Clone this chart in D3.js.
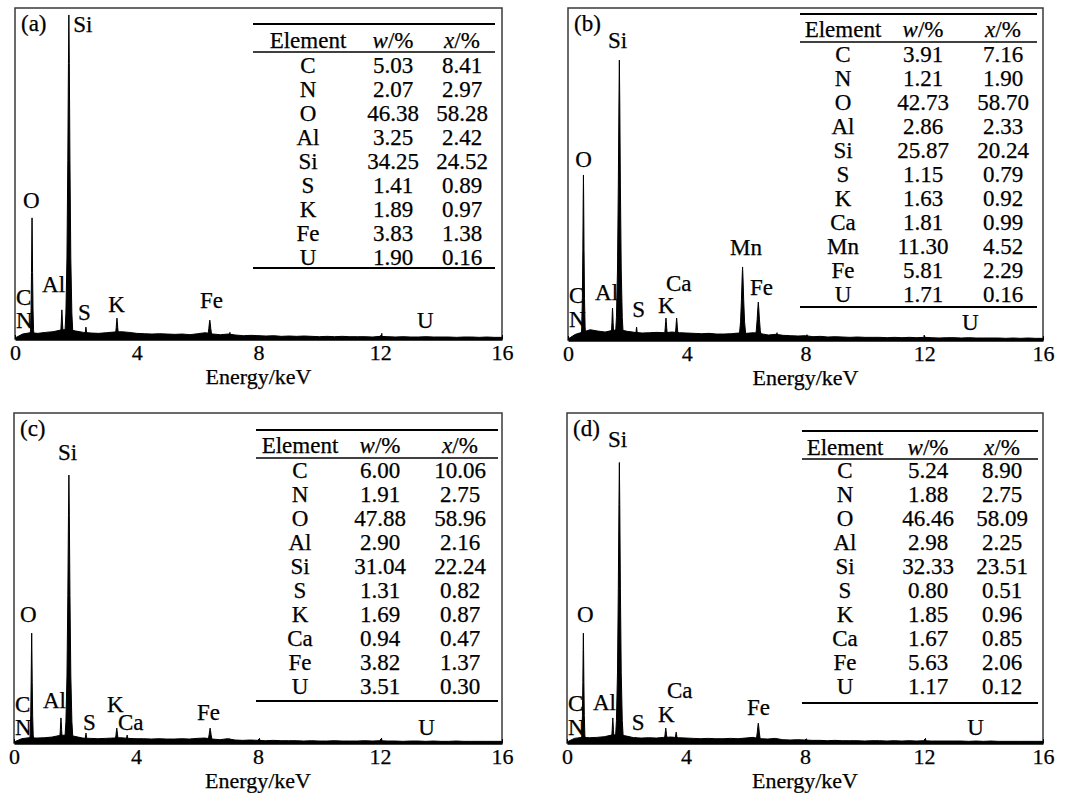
<!DOCTYPE html>
<html>
<head>
<meta charset="utf-8">
<script src="https://cdn.jsdelivr.net/npm/d3@7"></script>
<style>
  body { margin: 0; background: #fff; }
  svg text { font-family: "Liberation Serif", "Times New Roman", serif; font-size: 23px; fill: #000; stroke: #000; stroke-width: 0.25px; }
  svg text.axis-lbl { font-size: 22px; }
</style>
</head>
<body>
<svg id="chart" width="1075" height="793"></svg>
<script>
// ---- data ----
const panelNames = ["(a)", "(b)", "(c)", "(d)"];
const energyTicks = [0, 4, 8, 12, 16];

const elementsA = ["C", "N", "O", "Al", "Si", "S", "K", "Fe", "U"];
const wA = ["5.03", "2.07", "46.38", "3.25", "34.25", "1.41", "1.89", "3.83", "1.90"];
const xA = ["8.41", "2.97", "58.28", "2.42", "24.52", "0.89", "0.97", "1.38", "0.16"];

const elementsB = ["C", "N", "O", "Al", "Si", "S", "K", "Ca", "Mn", "Fe", "U"];
const wB = ["3.91", "1.21", "42.73", "2.86", "25.87", "1.15", "1.63", "1.81", "11.30", "5.81", "1.71"];
const xB = ["7.16", "1.90", "58.70", "2.33", "20.24", "0.79", "0.92", "0.99", "4.52", "2.29", "0.16"];

const elementsC = ["C", "N", "O", "Al", "Si", "S", "K", "Ca", "Fe", "U"];
const wC = ["6.00", "1.91", "47.88", "2.90", "31.04", "1.31", "1.69", "0.94", "3.82", "3.51"];
const xC = ["10.06", "2.75", "58.96", "2.16", "22.24", "0.82", "0.87", "0.47", "1.37", "0.30"];

const elementsD = ["C", "N", "O", "Al", "Si", "S", "K", "Ca", "Fe", "U"];
const wD = ["5.24", "1.88", "46.46", "2.98", "32.33", "0.80", "1.85", "1.67", "5.63", "1.17"];
const xD = ["8.90", "2.75", "58.09", "2.25", "23.51", "0.51", "0.96", "0.85", "2.06", "0.12"];

// peaks: [energy keV, intensity (% of full scale), half width keV]
const peaksA = [[0.56, 36.6, 0.07], [1.54, 8.8, 0.08], [1.77, 97.9, 0.14], [2.33, 3.6, 0.08],
  [3.35, 6.3, 0.1], [3.62, 2.0, 0.08], [6.40, 5.7, 0.13], [7.06, 2.0, 0.08], [12.05, 1.7, 0.04]];
const peaksB = [[0.52, 49.7, 0.08], [1.50, 9.6, 0.08], [1.73, 84.3, 0.14], [2.31, 3.9, 0.08],
  [3.30, 6.6, 0.1], [3.66, 6.6, 0.1], [5.88, 22.0, 0.15], [6.41, 11.4, 0.15], [7.04, 2.2, 0.08],
  [8.05, 1.6, 0.04], [12.0, 1.5, 0.04]];
const peaksC = [[0.58, 33.3, 0.07], [1.54, 7.6, 0.08], [1.80, 81.2, 0.14], [2.36, 3.0, 0.08],
  [3.37, 4.5, 0.1], [3.71, 2.4, 0.1], [6.43, 4.5, 0.13], [7.06, 1.3, 0.08], [8.05, 1.4, 0.04],
  [12.05, 1.5, 0.04]];
const peaksD = [[0.55, 33.3, 0.07], [1.54, 7.6, 0.08], [1.76, 85.0, 0.14], [2.31, 1.8, 0.08],
  [3.32, 4.5, 0.1], [3.67, 3.3, 0.1], [6.43, 6.0, 0.13], [7.05, 1.2, 0.08], [8.05, 1.3, 0.04],
  [12.05, 1.4, 0.04]];

// background counts every 0.25 keV, 0..16 keV
const bgA = [0.3, 1.5, 1.9, 1.7, 2.0, 2.2, 2.7, 2.9, 2.4, 2.0, 1.8, 1.7, 1.9, 2.1, 2.2, 2.0, 1.7,
  1.6, 1.5, 1.6, 1.5, 1.4, 1.5, 1.3, 1.6, 1.9, 1.5, 1.3, 1.5, 1.2, 1.0, 1.1, 1.0,
  0.9, 1.0, 0.8, 0.9, 0.8, 0.9, 0.8, 0.7, 0.8, 0.7, 0.8, 0.7, 0.7, 0.7, 0.6, 0.8,
  0.7, 0.6, 0.7, 0.6, 0.6, 0.7, 0.6, 0.6, 0.6, 0.5, 0.6, 0.6, 0.5, 0.6, 0.5, 0.5];
const bgB = [0.3, 1.7, 2.4, 3.1, 2.7, 2.4, 2.9, 3.1, 2.6, 2.3, 2.1, 2.2, 2.3, 2.2, 2.4, 2.2, 2.1,
  2.0, 1.9, 2.0, 1.8, 1.8, 1.9, 2.1, 2.0, 2.2, 1.9, 1.5, 1.7, 1.4, 1.3, 1.2, 1.3,
  1.0, 1.1, 0.9, 1.0, 0.9, 0.8, 0.9, 0.8, 0.8, 0.8, 0.7, 0.8, 0.7, 0.8, 0.7, 0.8,
  0.7, 0.6, 0.7, 0.7, 0.6, 0.7, 0.6, 0.6, 0.6, 0.6, 0.5, 0.6, 0.5, 0.6, 0.5, 0.5];
const bgC = [0.3, 1.3, 1.6, 1.5, 1.6, 1.8, 2.3, 2.4, 2.0, 1.5, 1.4, 1.3, 1.4, 1.5, 1.6, 1.4, 1.3,
  1.3, 1.2, 1.3, 1.2, 1.2, 1.3, 1.2, 1.4, 1.5, 1.2, 1.0, 1.3, 0.9, 0.8, 0.9, 0.8,
  0.7, 0.8, 0.7, 0.7, 0.7, 0.6, 0.7, 0.6, 0.6, 0.7, 0.6, 0.6, 0.6, 0.7, 0.6, 0.7,
  0.6, 0.6, 0.5, 0.6, 0.6, 0.5, 0.6, 0.5, 0.5, 0.6, 0.5, 0.5, 0.5, 0.5, 0.5, 0.5];
const bgD = [0.3, 1.4, 1.7, 1.6, 1.7, 1.9, 2.4, 2.5, 2.1, 1.6, 1.5, 1.6, 1.5, 1.7, 1.8, 1.6, 1.5,
  1.4, 1.3, 1.4, 1.3, 1.3, 1.4, 1.3, 1.5, 1.7, 1.3, 1.2, 1.4, 1.0, 0.9, 1.0, 0.9,
  0.8, 0.8, 0.7, 0.8, 0.7, 0.7, 0.7, 0.6, 0.7, 0.7, 0.6, 0.7, 0.6, 0.7, 0.6, 0.7,
  0.6, 0.6, 0.6, 0.6, 0.6, 0.5, 0.6, 0.5, 0.6, 0.5, 0.5, 0.5, 0.5, 0.5, 0.5, 0.5];

// peak labels: [text, energy at text start, intensity at baseline]
const labelsA = [["Si", 1.91, 92.7], ["O", 0.26, 39.6], ["C", 0.03, 10.3], ["N", 0.03, 3.3],
  ["Al", 0.89, 14.2], ["S", 2.07, 5.7], ["K", 3.06, 8.2], ["Fe", 6.08, 9.4], ["U", 13.21, 3.3]];
const labelsB = [["Si", 1.35, 88.0], ["O", 0.24, 52.1], ["C", 0.0, 11.1], ["N", 0.0, 3.9],
  ["Al", 0.91, 12.0], ["S", 2.16, 6.9], ["K", 3.03, 8.0], ["Ca", 3.30, 14.9], ["Mn", 5.46, 25.6],
  ["Fe", 6.13, 13.6], ["U", 13.27, 3.0]];
const labelsC = [["Si", 1.44, 85.8], ["O", 0.20, 36.7], ["C", 0.03, 9.4], ["N", 0.03, 2.4],
  ["Al", 0.95, 10.6], ["S", 2.26, 3.9], ["K", 3.05, 9.4], ["Ca", 3.41, 3.9], ["Fe", 6.0, 7.0],
  ["U", 13.25, 2.4]];
const labelsD = [["Si", 1.38, 89.7], ["O", 0.34, 36.7], ["C", 0.0, 9.6], ["N", 0.0, 2.4],
  ["Al", 0.87, 10.0], ["S", 2.18, 3.9], ["K", 3.06, 6.5], ["Ca", 3.36, 13.5], ["Fe", 6.05, 8.5],
  ["U", 13.45, 2.4]];

// ---- layout ----
const layout = [
  { left: 15, right: 502, top: 8, axis: 339, tTop: 24, tX1: 253, tX2: 495, hBase: 48, hLine: 52, row0: 73, tBot: 268, cols: [308, 393, 462] },
  { left: 568, right: 1043, top: 8, axis: 340, tTop: 14, tX1: 800, tX2: 1037, hBase: 37, hLine: 42, row0: 62, tBot: 307, cols: [843, 923, 1003] },
  { left: 14, right: 502, top: 413, axis: 743, tTop: 430, tX1: 256, tX2: 498, hBase: 453, hLine: 458, row0: 478, tBot: 701, cols: [300, 380, 460] },
  { left: 567, right: 1043, top: 413, axis: 743, tTop: 431, tX1: 802, tX2: 1038, hBase: 455, hLine: 459, row0: 478, tBot: 703, cols: [845, 928, 1002] }
];
const rowPitch = 24;

const panels = [
  { els: elementsA, w: wA, x: xA, peaks: peaksA, bg: bgA, labels: labelsA },
  { els: elementsB, w: wB, x: xB, peaks: peaksB, bg: bgB, labels: labelsB },
  { els: elementsC, w: wC, x: xC, peaks: peaksC, bg: bgC, labels: labelsC },
  { els: elementsD, w: wD, x: xD, peaks: peaksD, bg: bgD, labels: labelsD }
];

// relative spike glyph (offset in half-widths, fraction of height)
const peakShape = [[-1, 0], [-0.7, 0.08], [-0.45, 0.25], [-0.25, 0.55], [-0.1, 0.85], [0, 1],
  [0.1, 0.85], [0.25, 0.55], [0.45, 0.25], [0.7, 0.08], [1, 0]];

const svg = d3.select("#chart");

panels.forEach((p, i) => {
  const L = layout[i];
  const x = d3.scaleLinear().domain([0, 16]).range([L.left, L.right]);
  const y = d3.scaleLinear().domain([0, 100]).range([L.axis, L.top]);
  const g = svg.append("g");

  g.append("clipPath").attr("id", "clip" + i)
    .append("rect")
    .attr("x", L.left).attr("y", L.top)
    .attr("width", L.right - L.left).attr("height", L.axis - L.top);

  // frame
  g.append("rect")
    .attr("x", L.left).attr("y", L.top)
    .attr("width", L.right - L.left).attr("height", L.axis - L.top)
    .attr("fill", "none").attr("stroke", "#3a3a3a").attr("stroke-width", 1.5);

  const plot = g.append("g").attr("clip-path", `url(#clip${i})`);

  // background
  const area = d3.area()
    .x((d, k) => x(k * 0.25))
    .y0(y(0))
    .y1(d => y(d));
  plot.append("path").datum(p.bg)
    .attr("d", area)
    .attr("fill", "#000").attr("stroke", "#000").attr("stroke-width", 1);

  // peaks
  p.peaks.forEach(pk => {
    const line = d3.line()
      .x(s => x(pk[0] + s[0] * pk[2]))
      .y(s => y(pk[1] * s[1]));
    plot.append("path").datum(peakShape)
      .attr("d", line)
      .attr("fill", "#000").attr("stroke", "#000").attr("stroke-width", 1)
      .attr("stroke-linejoin", "round");
  });

  // axis
  const ax = g.append("g")
    .attr("transform", `translate(0,${L.axis})`)
    .call(d3.axisBottom(x).tickValues(energyTicks).tickSize(-4).tickSizeOuter(0).tickPadding(5));
  ax.select(".domain").attr("stroke", "#000").attr("stroke-width", 2.5);
  ax.selectAll(".tick line").attr("stroke", "#000").attr("stroke-width", 1);
  ax.selectAll(".tick text")
    .attr("class", "axis-lbl")
    .attr("fill", "#000")
    .style("font-family", '"Liberation Serif", "Times New Roman", serif');

  g.append("text")
    .attr("class", "axis-lbl")
    .attr("x", (L.left + L.right) / 2)
    .attr("y", L.axis + 45)
    .attr("text-anchor", "middle")
    .text("Energy/keV");

  // panel tag
  g.append("text")
    .attr("x", L.left + 6).attr("y", L.top + 23)
    .text(panelNames[i]);

  // peak labels
  p.labels.forEach(lb => {
    g.append("text")
      .attr("x", Math.max(x(lb[1]), L.left + 1))
      .attr("y", y(lb[2]))
      .text(lb[0]);
  });

  // table
  g.append("line").attr("x1", L.tX1).attr("x2", L.tX2).attr("y1", L.tTop).attr("y2", L.tTop)
    .attr("stroke", "#000").attr("stroke-width", 2);
  g.append("line").attr("x1", L.tX1).attr("x2", L.tX2).attr("y1", L.hLine).attr("y2", L.hLine)
    .attr("stroke", "#000").attr("stroke-width", 1.4);
  g.append("line").attr("x1", L.tX1).attr("x2", L.tX2).attr("y1", L.tBot).attr("y2", L.tBot)
    .attr("stroke", "#000").attr("stroke-width", 2);

  g.append("text").attr("x", L.cols[0]).attr("y", L.hBase)
    .attr("text-anchor", "middle").text("Element");
  [["w", L.cols[1]], ["x", L.cols[2]]].forEach(h => {
    const t = g.append("text").attr("x", h[1]).attr("y", L.hBase).attr("text-anchor", "middle");
    t.append("tspan").attr("font-style", "italic").text(h[0]);
    t.append("tspan").text("/%");
  });

  p.els.forEach((el, r) => {
    const yy = L.row0 + r * rowPitch;
    [el, p.w[r], p.x[r]].forEach((v, c) => {
      g.append("text").attr("x", L.cols[c]).attr("y", yy)
        .attr("text-anchor", "middle").text(v);
    });
  });
});
</script>
</body>
</html>
